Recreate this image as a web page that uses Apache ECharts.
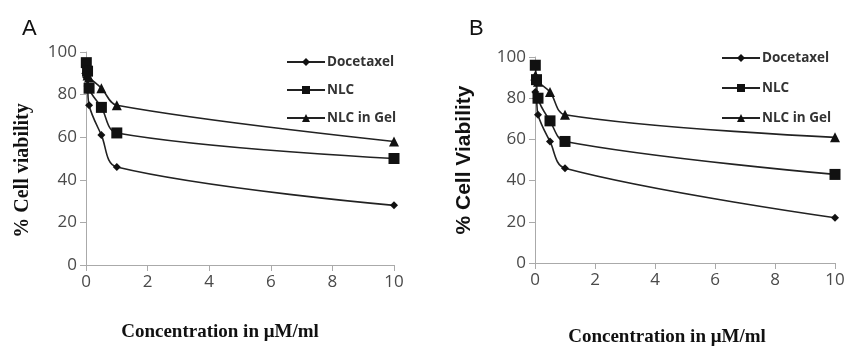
<!DOCTYPE html>
<html><head><meta charset="utf-8">
<script src="https://cdn.jsdelivr.net/npm/echarts@6/dist/echarts.min.js"></script>
<style>html,body{margin:0;padding:0;background:#fff}#c{width:854px;height:346px}</style>
</head><body><div id="c"></div>
<script>
const conc = [0.01, 0.05, 0.1, 0.5, 1, 10];
const seriesNames = ['Docetaxel', 'NLC', 'NLC in Gel'];
const docA = [88, 84, 75, 61, 46, 28];
const nlcA = [95, 91, 83, 74, 62, 50];
const gelA = [92, 89, 88, 83, 75, 58];
const docB = [83, 80, 72, 59, 46, 22];
const nlcB = [96, 89, 80, 69, 59, 43];
const gelB = [91, 90, 88, 83, 72, 61];
const xTicks = [0, 2, 4, 6, 8, 10];
const yTicks = [0, 20, 40, 60, 80, 100];

const symbols = ['diamond', 'rect', 'triangle'];
const sizes = [8, 11, 10];
const pair = (ys) => conc.map((x, i) => [x, ys[i]]);

function mkSeries(idx, arrs) {
  return arrs.map((ys, k) => ({
    name: seriesNames[k], type: 'line', xAxisIndex: idx, yAxisIndex: idx,
    data: pair(ys), smooth: 0.35, symbol: symbols[k], symbolSize: sizes[k],
    itemStyle: {color: '#111'}, lineStyle: {color: '#222', width: 1.6}
  }));
}
const tickFont = {color: '#4a4a4a', fontSize: 17, fontFamily: 'Open Sans'};
function xAxis(idx, nameGap, nameSize, shift) {
  return {gridIndex: idx, type: 'value', min: 0, max: 10, interval: 2,
    axisLine: {lineStyle: {color: '#aaa'}}, axisTick: {length: 6, lineStyle: {color: '#aaa'}},
    axisLabel: Object.assign({margin: 9, formatter: v => xTicks.includes(v) ? String(v) : ''}, tickFont),
    splitLine: {show: false},
    name: 'Concentration in μM/ml', nameLocation: 'middle', nameGap: nameGap,
    nameTextStyle: {fontFamily: 'Liberation Serif', fontWeight: 'bold', fontSize: nameSize, color: '#111', padding: [0, shift, 0, 0]}};
}
function yAxis(idx, name, fam, size, gap, shift) {
  return {gridIndex: idx, type: 'value', min: 0, max: 100, interval: 20,
    axisLine: {show: true, lineStyle: {color: '#aaa'}}, axisTick: {show: true, length: 6, lineStyle: {color: '#aaa'}},
    axisLabel: Object.assign({margin: 9, formatter: v => yTicks.includes(v) ? String(v) : ''}, tickFont),
    splitLine: {show: false},
    name: name, nameLocation: 'middle', nameGap: gap,
    nameTextStyle: {fontFamily: fam, fontWeight: 'bold', fontSize: size, color: '#111', padding: [0, shift, 0, 0]}};
}
function legend(left, top, gap) {
  return {data: seriesNames, orient: 'vertical', left: left, top: top, itemWidth: 38, itemHeight: 10,
    itemGap: gap, textStyle: {fontFamily: 'Open Sans', fontWeight: 'bold', fontSize: 13.5, color: '#333', padding: [0, 0, 0, -3]},
    selectedMode: false};
}
const chart = echarts.init(document.getElementById('c'));
chart.setOption({
  animation: false,
  title: [
    {text: 'A', left: 17, top: 13, textStyle: {fontFamily: 'Liberation Sans', fontWeight: 'normal', fontSize: 22, color: '#111'}},
    {text: 'B', left: 464, top: 13, textStyle: {fontFamily: 'Liberation Sans', fontWeight: 'normal', fontSize: 22, color: '#111'}}
  ],
  grid: [
    {left: 86, top: 52, width: 308, height: 213, outerBoundsMode: 'none', containLabel: false},
    {left: 535, top: 57, width: 300, height: 206, outerBoundsMode: 'none', containLabel: false}
  ],
  xAxis: [xAxis(0, 58, 19, 40), xAxis(1, 65, 19, 36)],
  yAxis: [yAxis(0, '% Cell viability', 'Liberation Serif', 20, 53, 24), yAxis(1, '% Cell Viability', 'Liberation Sans', 21, 60, 0)],
  legend: [legend(281, 50, 14), legend(716, 46, 16)],
  series: mkSeries(0, [docA, nlcA, gelA]).concat(mkSeries(1, [docB, nlcB, gelB]))
});
</script></body></html>
